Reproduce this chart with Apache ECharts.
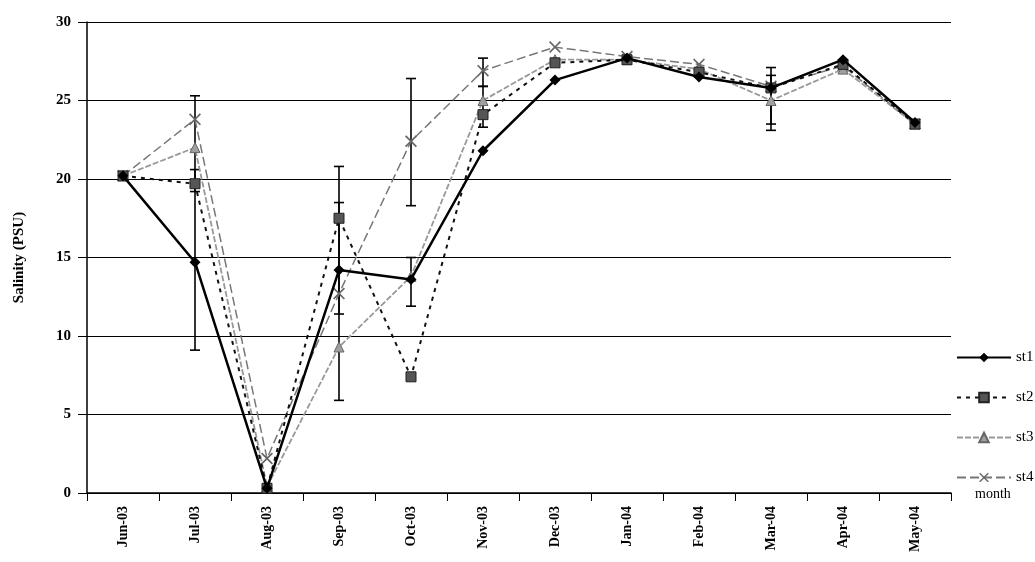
<!DOCTYPE html>
<html>
<head>
<meta charset="utf-8">
<script src="https://cdn.jsdelivr.net/npm/echarts@6/dist/echarts.min.js"></script>
<style>
  html, body { margin: 0; padding: 0; background: #fff; }
  #chart { width: 1035px; height: 562px; }
</style>
</head>
<body>
<div id="chart"></div>
<script>
// Monthly salinity at four stations
const months = ['Jun-03','Jul-03','Aug-03','Sep-03','Oct-03','Nov-03','Dec-03','Jan-04','Feb-04','Mar-04','Apr-04','May-04'];
const st1 = [20.2, 14.7, 0.3, 14.2, 13.6, 21.8, 26.3, 27.7, 26.5, 25.8, 27.6, 23.6];
const st2 = [20.2, 19.7, 0.3, 17.5, 7.4, 24.1, 27.4, 27.6, 26.8, 25.8, 27.3, 23.5];
const st3 = [20.2, 22.0, 0.4, 9.3, 13.8, 25.0, 27.6, 27.6, 27.0, 25.0, 27.0, 23.5];
const st4 = [20.2, 23.8, 2.2, 12.7, 22.4, 26.9, 28.4, 27.8, 27.3, 25.9, 27.2, 23.5];
// Error bars: [month index, low, high]
const errorBars = [
  [1, 9.1, 25.3], [1, 19.2, 20.6],
  [3, 5.9, 20.8], [3, 11.4, 18.5],
  [4, 18.3, 26.4], [4, 11.9, 15.0],
  [5, 23.3, 25.9], [5, 25.9, 27.7],
  [9, 23.1, 27.1], [9, 23.5, 26.6]
];
const yTicks = [0, 5, 10, 15, 20, 25, 30];

const serif = '"Liberation Serif", "DejaVu Serif", serif';
const xMark = 'path://M0,1 L1,0 L5,4 L9,0 L10,1 L6,5 L10,9 L9,10 L5,6 L1,10 L0,9 L4,5 Z';

const chart = echarts.init(document.getElementById('chart'));
chart.setOption({
  animation: false,
  backgroundColor: '#fff',
  grid: { left: 87, right: 84, top: 22, bottom: 69 },
  xAxis: {
    type: 'category',
    data: months,
    boundaryGap: true,
    axisLine: { lineStyle: { color: '#000', width: 1.5 } },
    axisTick: { show: true, inside: false, length: 8, lineStyle: { color: '#000' } },
    axisLabel: { rotate: 90, margin: 13, color: '#000', fontFamily: serif, fontWeight: 'bold', fontSize: 14 },
    splitLine: { show: false }
  },
  yAxis: {
    type: 'value',
    min: yTicks[0],
    max: yTicks[yTicks.length - 1],
    interval: 5,
    name: 'Salinity (PSU)',
    nameLocation: 'middle',
    nameGap: 60,
    nameTextStyle: { fontFamily: serif, fontWeight: 'bold', fontSize: 15, color: '#000' },
    axisLine: { show: true, lineStyle: { color: '#000', width: 1.5 } },
    axisTick: { show: true, length: 9, lineStyle: { color: '#000' } },
    axisLabel: { margin: 16, color: '#000', fontFamily: serif, fontWeight: 'bold', fontSize: 15 },
    splitLine: { show: true, lineStyle: { color: '#000', width: 1 } }
  },
  legend: {
    orient: 'vertical',
    left: 951,
    top: 345,
    itemWidth: 54,
    itemHeight: 12,
    itemGap: 25,
    textStyle: { fontFamily: serif, fontSize: 15, color: '#000' },
    data: ['st1', 'st2', 'st3', 'st4']
  },
  graphic: [{
    type: 'text',
    left: 975,
    top: 487,
    style: { text: 'month', font: '14px ' + serif, fill: '#000' }
  }],
  series: [
    {
      name: 'errors',
      type: 'custom',
      data: errorBars,
      z: 5,
      renderItem: function (params, api) {
        const x = api.value(0);
        const lo = api.coord([x, api.value(1)]);
        const hi = api.coord([x, api.value(2)]);
        const cap = 5;
        const st = { stroke: '#000', lineWidth: 1.6 };
        return {
          type: 'group',
          children: [
            { type: 'line', shape: { x1: lo[0], y1: lo[1], x2: hi[0], y2: hi[1] }, style: st },
            { type: 'line', shape: { x1: lo[0] - cap, y1: lo[1], x2: lo[0] + cap, y2: lo[1] }, style: st },
            { type: 'line', shape: { x1: hi[0] - cap, y1: hi[1], x2: hi[0] + cap, y2: hi[1] }, style: st }
          ]
        };
      }
    },
    {
      name: 'st4', type: 'line', data: st4, z: 6,
      symbol: xMark, symbolSize: 12,
      lineStyle: { color: '#777', width: 1.5, type: [9, 4] },
      itemStyle: { color: '#666' }
    },
    {
      name: 'st3', type: 'line', data: st3, z: 7,
      symbol: 'triangle', symbolSize: 10,
      lineStyle: { color: '#999', width: 1.8, type: [6, 2] },
      itemStyle: { color: '#a0a0a0', borderColor: '#666', borderWidth: 1 }
    },
    {
      name: 'st2', type: 'line', data: st2, z: 8,
      symbol: 'rect', symbolSize: 10,
      lineStyle: { color: '#111', width: 2, type: [4, 5] },
      itemStyle: { color: '#555', borderColor: '#222', borderWidth: 1 }
    },
    {
      name: 'st1', type: 'line', data: st1, z: 9,
      symbol: 'diamond', symbolSize: 11,
      lineStyle: { color: '#000', width: 2.5 },
      itemStyle: { color: '#000' }
    }
  ]
});
</script>
</body>
</html>
